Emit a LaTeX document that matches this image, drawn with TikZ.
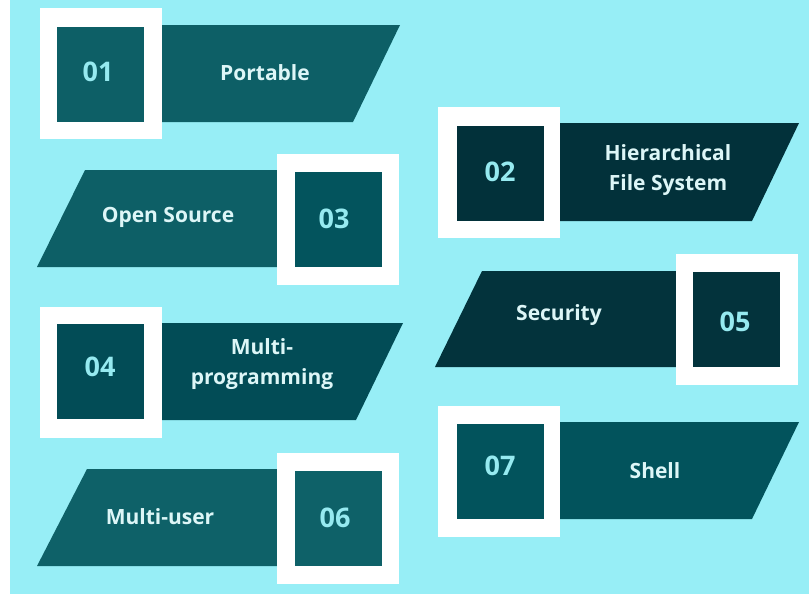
\documentclass[tikz,border=0pt]{standalone}
\usepackage{fontspec}
\setmainfont{Open Sans}
\begin{document}
\begin{tikzpicture}[x=1pt,y=-1pt,
  frame/.style={fill=white,draw=none,minimum width=122pt,minimum height=131pt,inner sep=0pt},
  sq/.style={draw=none,minimum width=87pt,minimum height=95pt,inner sep=0pt},
  num/.style={text=numc,font=\fontsize{27}{30}\selectfont\bfseries,inner sep=0pt},
  lbl/.style={text=lblc,font=\fontsize{21}{30}\selectfont\bfseries,align=center,inner sep=0pt}]
\definecolor{bgc}{HTML}{97EEF6}
\definecolor{numc}{HTML}{96EAF0}
\definecolor{lblc}{HTML}{DDF6F7}
\definecolor{tealA}{HTML}{0D5F66}
\definecolor{tealB}{HTML}{02313A}
\definecolor{tealC}{HTML}{03545D}
\definecolor{tealD}{HTML}{024C56}
\definecolor{tealE}{HTML}{03333C}
\definecolor{tealF}{HTML}{0E6168}
\definecolor{tealG}{HTML}{02535C}
\useasboundingbox (0,0) rectangle (809,597);
\fill[white] (0,0) rectangle (809,597);
\fill[bgc] (10,0) rectangle (809,594);

% 01 Portable
\fill[tealA] (100,25) -- (400,25) -- (353,122) -- (100,122) -- cycle;
\node[frame] (f1) at (101,73.5) {};
\node[sq,fill=tealA] (n1) at (100.5,74.5) {};
\node[num] (d1) at (98,72) {01};
\node[lbl] (t1) at (265,73) {Portable};

% 03 Open Source
\fill[tealA] (85,170) -- (340,170) -- (340,267) -- (37,267) -- cycle;
\node[frame] (f3) at (338,219.5) {};
\node[sq,fill=tealC] (n3) at (338,219.5) {};
\node[num] (d3) at (334,219) {03};
\node[lbl] (t3) at (168,217) {Open Source};

% 02 Hierarchical File System
\fill[tealB] (500,123) -- (799,123) -- (752,221) -- (500,221) -- cycle;
\node[frame] (f2) at (499,172.5) {};
\node[sq,fill=tealB] (n2) at (500,173.5) {};
\node[num] (d2) at (500,172) {02};
\node[lbl] (t2) at (668,170) {Hierarchical\\File System};

% 05 Security
\fill[tealE] (482,271) -- (735,271) -- (735,367) -- (435,367) -- cycle;
\node[frame] (f5) at (736.5,319.5) {};
\node[sq,fill=tealE] (n5) at (736,319.5) {};
\node[num] (d5) at (735,322) {05};
\node[lbl] (t5) at (559,315) {Security};

% 04 Multi-programming
\fill[tealD] (100,323) -- (403,323) -- (356,420) -- (100,420) -- cycle;
\node[frame] (f4) at (101,372) {};
\node[sq,fill=tealD] (n4) at (100.5,371.5) {};
\node[num] (d4) at (100,367) {04};
\node[lbl] (t4) at (262,364.5) {Multi-\\programming};

% 06 Multi-user
\fill[tealF] (87,469) -- (340,469) -- (340,566) -- (37,566) -- cycle;
\node[frame] (f6) at (338,518) {};
\node[sq,fill=tealF] (n6) at (338,518) {};
\node[num] (d6) at (335,518) {06};
\node[lbl] (t6) at (160,517) {Multi-user};

% 07 Shell
\fill[tealG] (500,422) -- (799,422) -- (752,519) -- (500,519) -- cycle;
\node[frame] (f7) at (499,471.5) {};
\node[sq,fill=tealG] (n7) at (500,471.5) {};
\node[num] (d7) at (500,466) {07};
\node[lbl] (t7) at (655,471) {Shell};
\end{tikzpicture}
\end{document}
